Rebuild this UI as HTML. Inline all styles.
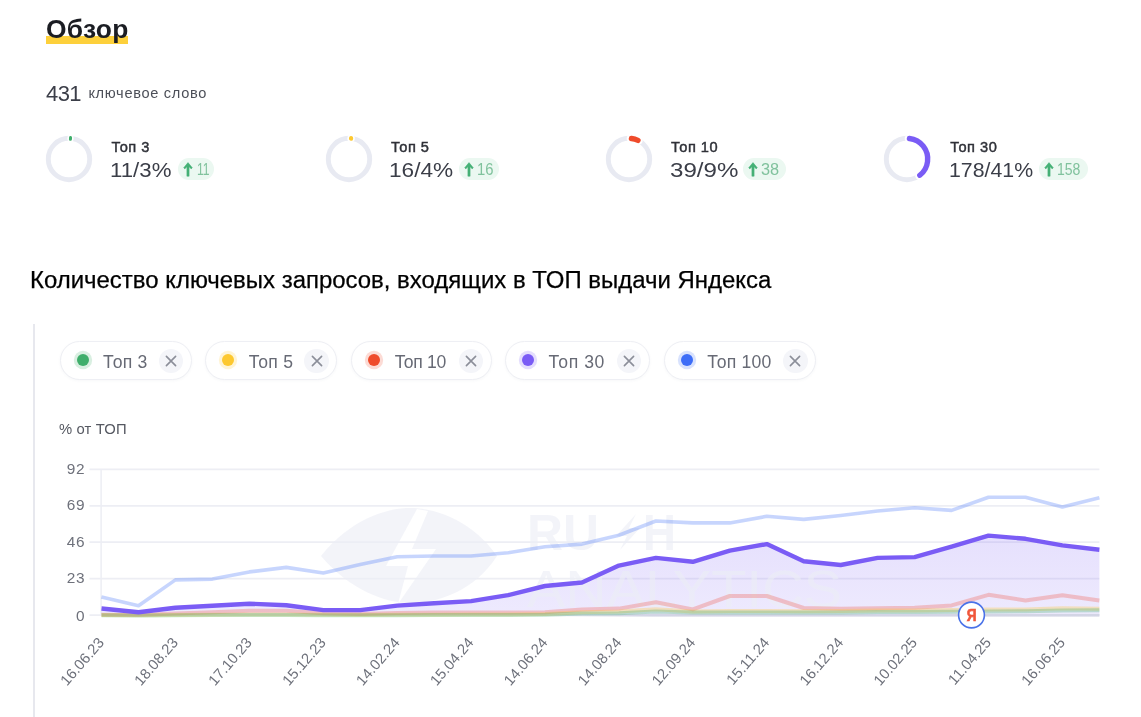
<!DOCTYPE html>
<html lang="ru">
<head>
<meta charset="utf-8">
<title>Обзор</title>
<style>
*{box-sizing:border-box;margin:0;padding:0}
html,body{width:1141px;height:717px;background:#fff;overflow:hidden}
body{position:relative;font-family:"Liberation Sans",Arial,sans-serif;color:#2b2d33}
h1{position:absolute;left:46px;top:14px;font-size:26.4px;line-height:30px;font-weight:700;color:#1b1d23;letter-spacing:0.3px;white-space:nowrap;z-index:1}
.hl{position:absolute;left:45.7px;top:36.4px;width:82.6px;height:7.4px;background:#fdd03b}
.cnt{position:absolute;left:46px;top:79px;height:30px;white-space:nowrap;color:#3b3e48}
.cnt b{position:absolute;left:0;top:0;font-weight:400;font-size:22px;line-height:30px;letter-spacing:-0.6px}
.cnt span{position:absolute;left:42.4px;top:-1.0px;font-size:14.6px;line-height:30px;color:#4c4f58;letter-spacing:0.68px}
.donut{position:absolute}
.sname{position:absolute;top:137px;font-size:14.6px;line-height:20px;font-weight:400;-webkit-text-stroke:0.45px #2f3138;color:#2f3138;white-space:nowrap;letter-spacing:0.5px}
.sval{position:absolute;top:156.2px;font-size:21px;line-height:28px;color:#3b3e48;white-space:nowrap;transform-origin:0 50%}
.badge{position:absolute;top:158px;height:21.6px;border-radius:11px;background:#ebf8f1;color:#80c29d;font-size:15.6px;line-height:21.6px;white-space:nowrap}
.badge svg{position:absolute;left:5.5px;top:3.6px}
.badge span{position:absolute;top:0.6px;transform-origin:0 50%}
.ttl{position:absolute;left:30px;top:264.8px;font-size:23.94px;line-height:30px;color:#000;-webkit-text-stroke:0.25px #000;white-space:nowrap}
.vline{position:absolute;left:33.1px;top:324.4px;width:1.6px;height:393px;background:#e7e8ee}
.chip{position:absolute;top:340.9px;height:38.8px;border:1.9px solid #eeeff4;border-radius:20px;background:#fff;box-shadow:0 1px 3px rgba(60,70,110,.04)}
.dot{position:absolute;left:16.0px;top:11.8px;width:12.2px;height:12.2px;border-radius:50%}
.ct{position:absolute;left:42.5px;top:8.7px;font-size:17.6px;line-height:22px;color:#676a75;white-space:nowrap}
.cx{position:absolute;right:7.6px;top:6.8px;width:24.4px;height:24.4px;border-radius:50%;background:#f4f5f9;display:flex;align-items:center;justify-content:center}
.ylab{position:absolute;left:59px;top:419.4px;font-size:14.8px;line-height:20px;color:#555861;white-space:nowrap;letter-spacing:0.15px}
.chart{position:absolute;left:0;top:0}
.chart text{font-family:"Liberation Sans",Arial,sans-serif}
.ytick{font-size:15.4px;fill:#6e717b;letter-spacing:0.6px}
.xtick{font-size:14.8px;fill:#6e717b}
.ya{font-size:17px;font-weight:700;fill:#f0553a}
.wm1{font-size:50px;font-weight:700;fill:#eceef6}
.wm2{font-size:52px;font-weight:400;fill:#eceef6}
</style>
</head>
<body>
<h1>Обзор</h1>
<div class="hl"></div>
<div class="cnt"><b>431</b><span>ключевое слово</span></div>
<svg class="donut" style="left:44.2px;top:134.0px" width="50" height="50" viewBox="0 0 50 50"><circle cx="25" cy="25" r="20.7" fill="none" stroke="#e8eaf2" stroke-width="4.9"/><rect x="21.90" y="1.35" width="6.19" height="5.9" rx="2" fill="#fff" transform="rotate(4.14 25 25)"/><rect x="23.50" y="1.85" width="2.99" height="4.9" rx="1.50" fill="#3fae6b" transform="rotate(4.14 25 25)"/></svg>
<div class="sname" style="left:111.4px">Топ 3</div>
<div class="sval" style="left:109.7px;transform:scaleX(1.06)">11/3%</div>
<div class="badge" style="left:177.6px;width:36.3px"><svg width="10" height="15" viewBox="0 0 10 15"><path d="M5 0.6 L9.300 5.8 L8.200 6.9 L6.100 4.700 L6.100 14.2 L3.900 14.2 L3.900 4.700 L1.800 6.9 L0.700 5.8 Z" fill="#45b176" stroke="#45b176" stroke-width="0.5" stroke-linejoin="round"/></svg><span style="left:19.2px;transform:scaleX(0.78)">11</span></div>
<svg class="donut" style="left:324.1px;top:134.0px" width="50" height="50" viewBox="0 0 50 50"><circle cx="25" cy="25" r="20.7" fill="none" stroke="#e8eaf2" stroke-width="4.9"/><rect x="21.32" y="1.35" width="7.36" height="5.9" rx="2" fill="#fff" transform="rotate(5.76 25 25)"/><rect x="22.92" y="1.85" width="4.16" height="4.9" rx="2.08" fill="#fdc82f" transform="rotate(5.76 25 25)"/></svg>
<div class="sname" style="left:391px">Топ 5</div>
<div class="sval" style="left:389.4px;transform:scaleX(1.078)">16/4%</div>
<div class="badge" style="left:458.9px;width:40.3px"><svg width="10" height="15" viewBox="0 0 10 15"><path d="M5 0.6 L9.300 5.8 L8.200 6.9 L6.100 4.700 L6.100 14.2 L3.900 14.2 L3.900 4.700 L1.800 6.9 L0.700 5.8 Z" fill="#45b176" stroke="#45b176" stroke-width="0.5" stroke-linejoin="round"/></svg><span style="left:18.4px;transform:scaleX(0.95)">16</span></div>
<svg class="donut" style="left:603.5px;top:134.0px" width="50" height="50" viewBox="0 0 50 50"><circle cx="25" cy="25" r="20.7" fill="none" stroke="#e8eaf2" stroke-width="4.9"/><circle cx="25" cy="25" r="20.7" fill="none" stroke="#fff" stroke-width="6.300000000000001" stroke-linecap="round" stroke-dasharray="10.01 130.06" transform="rotate(-87.65 25 25)"/><circle cx="25" cy="25" r="20.7" fill="none" stroke="#ef4b2b" stroke-width="5.4" stroke-linecap="round" stroke-dasharray="6.81 130.06" transform="rotate(-83.22 25 25)"/></svg>
<div class="sname" style="left:671px">Топ 10</div>
<div class="sval" style="left:670.2px;transform:scaleX(1.148)">39/9%</div>
<div class="badge" style="left:742.7px;width:43.2px"><svg width="10" height="15" viewBox="0 0 10 15"><path d="M5 0.6 L9.300 5.8 L8.200 6.9 L6.100 4.700 L6.100 14.2 L3.900 14.2 L3.900 4.700 L1.800 6.9 L0.700 5.8 Z" fill="#45b176" stroke="#45b176" stroke-width="0.5" stroke-linejoin="round"/></svg><span style="left:18.6px;transform:scaleX(1.045)">38</span></div>
<svg class="donut" style="left:881.5px;top:134.0px" width="50" height="50" viewBox="0 0 50 50"><circle cx="25" cy="25" r="20.7" fill="none" stroke="#e8eaf2" stroke-width="4.9"/><circle cx="25" cy="25" r="20.7" fill="none" stroke="#fff" stroke-width="6.300000000000001" stroke-linecap="round" stroke-dasharray="51.63 130.06" transform="rotate(-87.65 25 25)"/><circle cx="25" cy="25" r="20.7" fill="none" stroke="#7a5cf5" stroke-width="5.4" stroke-linecap="round" stroke-dasharray="48.43 130.06" transform="rotate(-83.22 25 25)"/></svg>
<div class="sname" style="left:950.2px">Топ 30</div>
<div class="sval" style="left:948.6px;transform:scaleX(1.014)">178/41%</div>
<div class="badge" style="left:1038.9px;width:48.8px"><svg width="10" height="15" viewBox="0 0 10 15"><path d="M5 0.6 L9.300 5.8 L8.200 6.9 L6.100 4.700 L6.100 14.2 L3.900 14.2 L3.900 4.700 L1.800 6.9 L0.700 5.8 Z" fill="#45b176" stroke="#45b176" stroke-width="0.5" stroke-linejoin="round"/></svg><span style="left:18.6px;transform:scaleX(0.9)">158</span></div>
<div class="ttl">Количество ключевых запросов, входящих в ТОП выдачи Яндекса</div>
<div class="vline"></div>
<div class="chip" style="left:59.6px;width:132px"><i class="dot" style="background:#3fae6b;box-shadow:0 0 0 3.2px #3fae6b33"></i><span class="ct" style="letter-spacing:0.2px">Топ 3</span><b class="cx"><svg width="12" height="12" viewBox="0 0 12 12"><path d="M1.4 1.4l9.2 9.2M10.600 1.4l-9.2 9.2" stroke="#8b8e99" stroke-width="1.6" stroke-linecap="round"/></svg></b></div>
<div class="chip" style="left:205.3px;width:132px"><i class="dot" style="background:#fdc82f;box-shadow:0 0 0 3.2px #fdc82f33"></i><span class="ct" style="letter-spacing:0.2px">Топ 5</span><b class="cx"><svg width="12" height="12" viewBox="0 0 12 12"><path d="M1.4 1.4l9.2 9.2M10.600 1.4l-9.2 9.2" stroke="#8b8e99" stroke-width="1.6" stroke-linecap="round"/></svg></b></div>
<div class="chip" style="left:351.2px;width:140.9px"><i class="dot" style="background:#ef4b2b;box-shadow:0 0 0 3.2px #ef4b2b33"></i><span class="ct" style="letter-spacing:-0.3px">Топ 10</span><b class="cx"><svg width="12" height="12" viewBox="0 0 12 12"><path d="M1.4 1.4l9.2 9.2M10.600 1.4l-9.2 9.2" stroke="#8b8e99" stroke-width="1.6" stroke-linecap="round"/></svg></b></div>
<div class="chip" style="left:504.9px;width:144.7px"><i class="dot" style="background:#7a5cf5;box-shadow:0 0 0 3.2px #7a5cf533"></i><span class="ct" style="letter-spacing:0.55px">Топ 30</span><b class="cx"><svg width="12" height="12" viewBox="0 0 12 12"><path d="M1.4 1.4l9.2 9.2M10.600 1.4l-9.2 9.2" stroke="#8b8e99" stroke-width="1.6" stroke-linecap="round"/></svg></b></div>
<div class="chip" style="left:663.7px;width:152.5px"><i class="dot" style="background:#3d6df7;box-shadow:0 0 0 3.2px #3d6df733"></i><span class="ct" style="letter-spacing:0.2px">Топ 100</span><b class="cx"><svg width="12" height="12" viewBox="0 0 12 12"><path d="M1.4 1.4l9.2 9.2M10.600 1.4l-9.2 9.2" stroke="#8b8e99" stroke-width="1.6" stroke-linecap="round"/></svg></b></div>
<div class="ylab">% от ТОП</div>
<svg class="chart" width="1141" height="717" viewBox="0 0 1141 717">
<defs><linearGradient id="pf" x1="0" y1="0" x2="0" y2="1"><stop offset="0" stop-color="#7a5cf5" stop-opacity="0.19"/><stop offset="1" stop-color="#7a5cf5" stop-opacity="0.13"/></linearGradient><linearGradient id="bl" x1="0" y1="0" x2="1" y2="0"><stop offset="0" stop-color="#d3d5e5" stop-opacity="0"/><stop offset="0.2" stop-color="#d3d5e5" stop-opacity="1"/><stop offset="1" stop-color="#d3d5e5" stop-opacity="1"/></linearGradient></defs>
<line x1="89.5" y1="469.3" x2="1099.4" y2="469.3" stroke="#edeef4" stroke-width="1.7"/>
<text x="85.1" y="473.7" text-anchor="end" class="ytick">92</text>
<line x1="89.5" y1="505.8" x2="1099.4" y2="505.8" stroke="#edeef4" stroke-width="1.7"/>
<text x="85.1" y="510.2" text-anchor="end" class="ytick">69</text>
<line x1="89.5" y1="542.2" x2="1099.4" y2="542.2" stroke="#edeef4" stroke-width="1.7"/>
<text x="85.1" y="546.6" text-anchor="end" class="ytick">46</text>
<line x1="89.5" y1="578.7" x2="1099.4" y2="578.7" stroke="#edeef4" stroke-width="1.7"/>
<text x="85.1" y="583.1" text-anchor="end" class="ytick">23</text>
<line x1="89.5" y1="615.1" x2="1099.4" y2="615.1" stroke="#edeef4" stroke-width="1.7"/>
<text x="85.1" y="621.2" text-anchor="end" class="ytick">0</text>
<line x1="101.1" y1="469" x2="101.1" y2="616" stroke="#edeef4" stroke-width="1.5"/>
<path d="M101.5,608.5 L138.5,612.2 L175.4,607.7 L212.4,605.8 L249.3,603.7 L286.3,605.3 L323.3,610.1 L360.2,610.1 L397.2,605.6 L434.1,603.2 L471.1,601.1 L508.1,595.2 L545.0,586.0 L582.0,582.5 L618.9,565.6 L655.9,557.9 L692.8,561.8 L729.8,550.7 L766.8,544.1 L803.7,561.3 L840.7,565.0 L877.6,557.9 L914.6,557.1 L951.6,546.7 L988.5,535.6 L1025.5,538.8 L1062.4,545.4 L1099.4,549.7 L1099.4,615.5 L101.5,615.5 Z" fill="url(#pf)" stroke="none"/>
<g class="wm" opacity="0.62">
<path fill-rule="evenodd" d="M321,556 C350,520 385,508 410,508 C440,508 475,524 497,556 C475,590 440,603 410,603 C385,603 350,590 321,556 Z M417,509 L386,566 L408,566 L398,604 L436,549 L412,549 L428,511 Z" fill="#eceef6"/>
<text x="527" y="550" class="wm1" textLength="72" lengthAdjust="spacingAndGlyphs">RU</text>
<path d="M636,514 L616,536 L627,536 L620,550 L640,528 L629,528 Z" fill="#eceef6"/>
<text x="643" y="550" class="wm1" textLength="33" lengthAdjust="spacingAndGlyphs">H</text>
<text x="527" y="607" class="wm2" textLength="315" lengthAdjust="spacingAndGlyphs">ANALYTICS</text>
</g>
<path d="M101.5,597.1 L138.5,605.8 L175.4,579.9 L212.4,579.1 L249.3,571.9 L286.3,567.4 L323.3,573.0 L360.2,564.5 L397.2,556.8 L434.1,556.0 L471.1,556.0 L508.1,552.8 L545.0,546.7 L582.0,544.1 L618.9,535.3 L655.9,521.0 L692.8,522.9 L729.8,522.9 L766.8,516.3 L803.7,519.4 L840.7,515.5 L877.6,511.0 L914.6,507.8 L951.6,510.4 L988.5,497.2 L1025.5,497.2 L1062.4,507.0 L1099.4,497.7" fill="none" stroke-linejoin="round" stroke-linecap="butt" stroke="#3d6df7" stroke-opacity="0.29" stroke-width="3.6"/>
<rect x="540" y="613.9" width="559.4" height="2.7" fill="url(#bl)"/>
<path d="M101.5,614.7 L138.5,615.1 L175.4,613.4 L212.4,612.2 L249.3,610.7 L286.3,610.7 L323.3,613.3 L360.2,614.1 L397.2,612.9 L434.1,612.6 L471.1,612.4 L508.1,612.4 L545.0,612.2 L582.0,609.4 L618.9,608.6 L655.9,602.3 L692.8,609.4 L729.8,596.0 L766.8,596.0 L803.7,608.0 L840.7,608.8 L877.6,608.2 L914.6,607.8 L951.6,605.4 L988.5,594.8 L1025.5,600.5 L1062.4,595.3 L1099.4,600.6" fill="none" stroke-linejoin="round" stroke-linecap="butt" stroke="#ef4b3b" stroke-opacity="0.28" stroke-width="4"/>
<path d="M101.5,615.1 L138.5,615.3 L175.4,614.9 L212.4,614.7 L249.3,614.5 L286.3,614.5 L323.3,614.8 L360.2,615.0 L397.2,614.8 L434.1,614.7 L471.1,614.5 L508.1,614.5 L545.0,614.0 L582.0,612.2 L618.9,611.6 L655.9,609.2 L692.8,611.6 L729.8,611.0 L766.8,611.0 L803.7,611.2 L840.7,611.0 L877.6,610.6 L914.6,610.5 L951.6,610.0 L988.5,609.5 L1025.5,609.5 L1062.4,608.2 L1099.4,608.8" fill="none" stroke-linejoin="round" stroke-linecap="butt" stroke="#fdc82f" stroke-opacity="0.30" stroke-width="4"/>
<path d="M101.5,615.3 L138.5,615.4 L175.4,615.2 L212.4,615.1 L249.3,615.0 L286.3,615.0 L323.3,615.2 L360.2,615.3 L397.2,615.2 L434.1,615.1 L471.1,615.0 L508.1,615.0 L545.0,614.8 L582.0,613.6 L618.9,613.2 L655.9,611.6 L692.8,612.6 L729.8,612.5 L766.8,612.5 L803.7,612.6 L840.7,612.4 L877.6,612.1 L914.6,612.0 L951.6,611.8 L988.5,611.5 L1025.5,611.3 L1062.4,610.6 L1099.4,610.3" fill="none" stroke-linejoin="round" stroke-linecap="butt" stroke="#3fae6b" stroke-opacity="0.30" stroke-width="4"/>
<path d="M101.5,608.5 L138.5,612.2 L175.4,607.7 L212.4,605.8 L249.3,603.7 L286.3,605.3 L323.3,610.1 L360.2,610.1 L397.2,605.6 L434.1,603.2 L471.1,601.1 L508.1,595.2 L545.0,586.0 L582.0,582.5 L618.9,565.6 L655.9,557.9 L692.8,561.8 L729.8,550.7 L766.8,544.1 L803.7,561.3 L840.7,565.0 L877.6,557.9 L914.6,557.1 L951.6,546.7 L988.5,535.6 L1025.5,538.8 L1062.4,545.4 L1099.4,549.7" fill="none" stroke-linejoin="round" stroke-linecap="butt" stroke="#7a5cf5" stroke-width="4.4"/>
<circle cx="971.5" cy="615" r="12.9" fill="#fff" stroke="#4a72e8" stroke-width="1.6"/>
<text x="0" y="0" text-anchor="middle" class="ya" stroke="#f0553a" stroke-width="0.7" transform="translate(971.6 621.4) scale(0.8 1)">Я</text>
<text x="104.9" y="643.0" text-anchor="end" transform="rotate(-49 104.9 643.0)" class="xtick">16.06.23</text>
<text x="178.8" y="643.0" text-anchor="end" transform="rotate(-49 178.8 643.0)" class="xtick">18.08.23</text>
<text x="252.7" y="643.0" text-anchor="end" transform="rotate(-49 252.7 643.0)" class="xtick">17.10.23</text>
<text x="326.7" y="643.0" text-anchor="end" transform="rotate(-49 326.7 643.0)" class="xtick">15.12.23</text>
<text x="400.6" y="643.0" text-anchor="end" transform="rotate(-49 400.6 643.0)" class="xtick">14.02.24</text>
<text x="474.5" y="643.0" text-anchor="end" transform="rotate(-49 474.5 643.0)" class="xtick">15.04.24</text>
<text x="548.4" y="643.0" text-anchor="end" transform="rotate(-49 548.4 643.0)" class="xtick">14.06.24</text>
<text x="622.3" y="643.0" text-anchor="end" transform="rotate(-49 622.3 643.0)" class="xtick">14.08.24</text>
<text x="696.2" y="643.0" text-anchor="end" transform="rotate(-49 696.2 643.0)" class="xtick">12.09.24</text>
<text x="770.2" y="643.0" text-anchor="end" transform="rotate(-49 770.2 643.0)" class="xtick">15.11.24</text>
<text x="844.1" y="643.0" text-anchor="end" transform="rotate(-49 844.1 643.0)" class="xtick">16.12.24</text>
<text x="918.0" y="643.0" text-anchor="end" transform="rotate(-49 918.0 643.0)" class="xtick">10.02.25</text>
<text x="991.9" y="643.0" text-anchor="end" transform="rotate(-49 991.9 643.0)" class="xtick">11.04.25</text>
<text x="1065.8" y="643.0" text-anchor="end" transform="rotate(-49 1065.8 643.0)" class="xtick">16.06.25</text>
</svg>
</body>
</html>
